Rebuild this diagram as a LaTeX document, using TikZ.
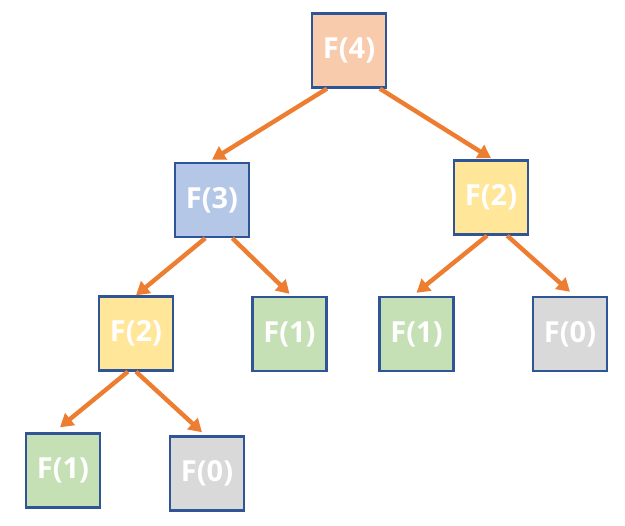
\documentclass[tikz,border=0pt]{standalone}
\usepackage{fontspec}
\setmainfont{Open Sans}
\usepackage{xcolor}
\usetikzlibrary{arrows.meta}

\definecolor{boxline}{HTML}{2F5597}
\definecolor{arrorange}{HTML}{ED7D31}
\definecolor{fourfill}{HTML}{F8CBAD}
\definecolor{threefill}{HTML}{B4C7E7}
\definecolor{twofill}{HTML}{FFE699}
\definecolor{onefill}{HTML}{C5E0B4}
\definecolor{zerofill}{HTML}{D9D9D9}

\begin{document}
\begin{tikzpicture}[x=1pt, y=-1pt,
    callbox/.style={draw=boxline, line width=2.4pt, minimum size=74pt,
      inner sep=0pt, text=white, font=\fontsize{29}{32}\selectfont\bfseries},
    callarrow/.style={-{Triangle[length=13pt, width=15pt]}, line width=4.4pt,
      arrorange}]
    % Canvas
    \useasboundingbox (0,0) rectangle (625,526);

    % Calls
    \node[callbox, fill=fourfill]  (f4)  at (349,50.5)  {F(4)};
    \node[callbox, fill=threefill] (f3)  at (212,200)   {F(3)};
    \node[callbox, fill=twofill]   (f2r) at (491,197.5) {F(2)};
    \node[callbox, fill=twofill]   (f2l) at (136,333.5) {F(2)};
    \node[callbox, fill=onefill]   (f1m) at (289.5,334) {F(1)};
    \node[callbox, fill=onefill]   (f1r) at (416.5,334) {F(1)};
    \node[callbox, fill=zerofill]  (f0r) at (570,334)   {F(0)};
    \node[callbox, fill=onefill]   (f1l) at (63,470.5)  {F(1)};
    \node[callbox, fill=zerofill]  (f0l) at (207,473.5) {F(0)};

    % Recursion arrows
    \draw[callarrow] (f4.-120) -- ([yshift=2pt]f3.north);
    \draw[callarrow] (f4.-51)  -- ([yshift=1pt]f2r.north);
    \draw[callarrow] (f3.-100) -- (f2l.north);
    \draw[callarrow] (f3.-62)  -- ([yshift=2pt]f1m.north);
    \draw[callarrow] (f2r.-96) -- ([yshift=3pt]f1r.north);
    \draw[callarrow] (f2r.-67) -- ([yshift=4pt]f0r.north);
    \draw[callarrow] (f2l.-102) -- ([xshift=-3pt, yshift=5pt]f1l.north);
    \draw[callarrow] (f2l.south) -- ([xshift=-5pt, yshift=3pt]f0l.north);
  \end{tikzpicture}
\end{document}
